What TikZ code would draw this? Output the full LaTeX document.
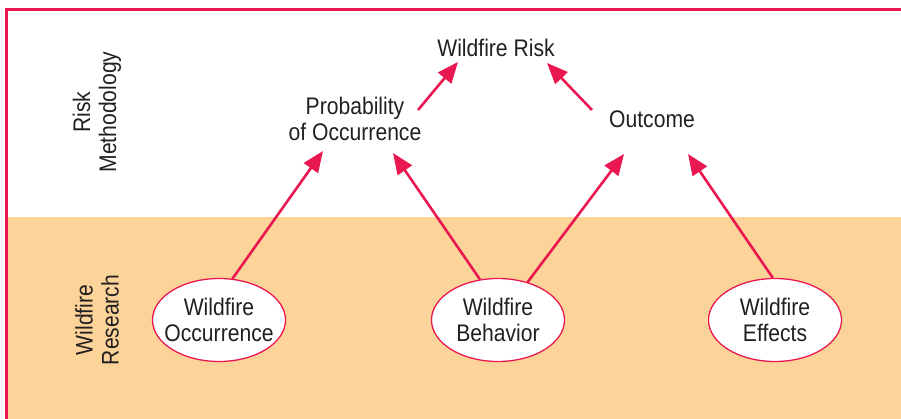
\documentclass[tikz,border=0pt]{standalone}
\usepackage{fontspec}
\setmainfont{Liberation Sans}[FakeStretch=0.88]
\usetikzlibrary{arrows.meta}
\usetikzlibrary{calc,positioning}
\usetikzlibrary{shapes.geometric}

\definecolor{vermelho}{RGB}{234,24,80}
\definecolor{laranja}{RGB}{252,212,154}
\definecolor{texto}{RGB}{35,31,32}

\begin{document}
\begin{tikzpicture}[x=1pt, y=-1pt, >={Triangle[length=21pt,width=17pt]},
	rotulo/.style={font=\fontsize{24}{26}\selectfont, text=texto, align=center, inner sep=0pt},
	bolha/.style={rotulo, ellipse, draw=vermelho, line width=1.3pt, fill=white, inner xsep=-15pt, minimum width=133pt, minimum height=83pt},
	seta/.style={->, vermelho, line width=2.6pt}]

	\useasboundingbox (0,0) rectangle (901,419);

	% Fundo e moldura
	\fill[laranja] (7,217) rectangle (901,419);
	\draw[vermelho, line width=3pt] (6,419) -- (6,10) -- (901,10);

	% Rótulos laterais
	\node[rotulo, rotate=90] (metodo) at (97,112) {Risk\\Methodology};
	\node[rotulo, rotate=90] (pesquisa) at (97,320) {Wildfire\\Research};

	% Metodologia de risco
	\node[rotulo] (risco) at (496,48) {Wildfire Risk};
	\node[rotulo] (prob) at (355,119) {Probability\\of Occurrence};
	\node[rotulo] (result) at (652,119) {Outcome};

	% Pesquisa
	\node[bolha] (ocorr) at (219,320) {Wildfire\\Occurrence};
	\node[bolha] (comport) at (498,320) {Wildfire\\Behavior};
	\node[bolha] (efeitos) at (775,320) {Wildfire\\Effects};

	% Setas
	\draw[seta] (ocorr.72) -- ($(prob)+(-32,32)$);
	\draw[seta] (comport.114) -- ($(prob)+(38,34)$);
	\draw[seta] (comport.52) -- ($(result)+(-28,35)$);
	\draw[seta] (efeitos.93) -- ($(result)+(36,35)$);
	\draw[seta] ($(prob)+(63,-9)$) -- ($(risco)+(-38,14)$);
	\draw[seta] ($(result)+(-60,-9)$) -- ($(risco)+(51,15)$);

\end{tikzpicture}
\end{document}
